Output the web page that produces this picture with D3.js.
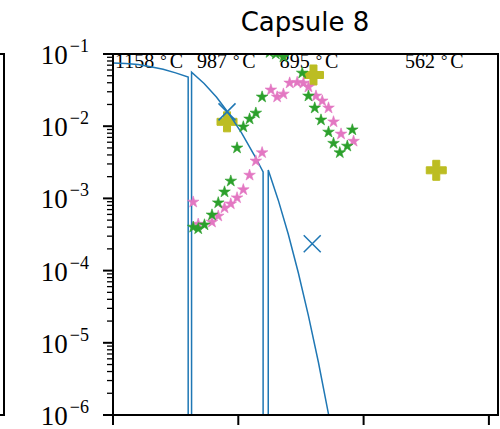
<!DOCTYPE html>
<html>
<head>
<meta charset="utf-8">
<script src="https://cdn.jsdelivr.net/npm/d3@7"></script>
<style>
body { margin: 0; background: #fff; }
</style>
</head>
<body>
<div id="chart"></div>
<script>
// DATA
var lineX = [0, 0.1, 0.2, 0.3, 0.4, 0.5, 0.6, 0.6, 0.627, 0.627, 0.727, 0.827, 0.927, 1.026, 1.127, 1.198, 1.198, 1.239, 1.239, 1.319, 1.399, 1.479, 1.559, 1.639, 1.718, 1.798];
var lineY = [0.0750, 0.0741, 0.0713, 0.0667, 0.0615, 0.0548, 0.0479, 1e-12, 1e-12, 0.0558, 0.0390, 0.0251, 0.01476, 0.00807, 0.00399, 0.00232, 1e-12, 1e-12, 0.00247, 9.46e-4, 3.18e-4, 9.35e-5, 2.40e-5, 5.42e-6, 1.07e-6, 1.85e-7];

var greenX = [0.64, 0.68, 0.73, 0.79, 0.84, 0.89, 0.94, 0.99, 1.04, 1.09, 1.14, 1.19, 1.25, 1.30, 1.36, 1.51, 1.56, 1.61, 1.66, 1.72, 1.76, 1.81, 1.87, 1.91];
var greenY = [4.0e-4, 3.8e-4, 4.3e-4, 5.9e-4, 8.7e-4, 1.23e-3, 1.74e-3, 5.0e-3, 9.8e-3, 1.26e-2, 1.52e-2, 2.54e-2, 0.105, 0.100, 0.091, 0.0545, 0.0262, 0.0179, 0.0122, 0.0083, 0.0058, 0.0043, 0.0053, 0.0089];

var pinkX = [0.64, 0.68, 0.79, 0.84, 0.89, 0.94, 0.99, 1.04, 1.09, 1.14, 1.19, 1.26, 1.31, 1.36, 1.41, 1.47, 1.52, 1.56, 1.62, 1.67, 1.72, 1.76, 1.82, 1.92];
var pinkY = [8.9e-4, 4.4e-4, 4.7e-4, 5.7e-4, 7.4e-4, 8.4e-4, 1.02e-3, 1.32e-3, 2.1e-3, 3.3e-3, 4.3e-3, 0.0318, 0.0254, 0.0279, 0.0397, 0.0405, 0.0395, 0.0349, 0.0262, 0.0224, 0.0179, 0.0115, 0.0078, 0.0062];

var crossX = [0.91, 1.59];
var crossY = [0.0158, 2.35e-4];

var plusX = [0.91, 1.60, 2.58];
var plusY = [0.0115, 0.0512, 2.45e-3];

var tempText = ["1158", "987", "895", "562"];
var tempX = [0.016, 0.67, 1.33, 2.33];

var xTicks = [0, 1, 2, 3];
var yTicks = [1e-1, 1e-2, 1e-3, 1e-4, 1e-5, 1e-6];
var yTickExp = ["\u22121", "\u22122", "\u22123", "\u22124", "\u22125", "\u22126"];
var title = "Capsule 8";

// LAYOUT
var W = 500, H = 429;
var pLeft = 113, pRight = 498, pTop = 54, pBottom = 415;
var serif = "'Liberation Serif', 'DejaVu Serif', serif";

var svg = d3.select("#chart").append("svg")
    .attr("width", W).attr("height", H);

var x = d3.scaleLinear().domain([0, (pRight - pLeft) / 125.3]).range([pLeft, pRight]);
var y = d3.scaleLog().domain([1e-6, 1e-1]).range([pBottom, pTop]);

// neighbouring subplot edge, cut off on the left
svg.append("path")
    .attr("d", "M0," + pTop + "H4V" + pBottom + "H0")
    .attr("fill", "none").attr("stroke", "#000").attr("stroke-width", 2);

svg.append("defs").append("clipPath").attr("id", "plotclip")
    .append("rect").attr("x", pLeft).attr("y", pTop)
    .attr("width", pRight - pLeft).attr("height", pBottom - pTop);

// TITLE
svg.append("text")
    .attr("x", 305).attr("y", 31)
    .attr("text-anchor", "middle")
    .style("font-family", "'DejaVu Sans', sans-serif")
    .style("font-size", "26px")
    .text(title);

var plot = svg.append("g").attr("clip-path", "url(#plotclip)");

// TEMPERATURE LABELS
tempText.forEach(function(t, i) {
    var tx = plot.append("text")
        .attr("x", x(tempX[i])).attr("y", 68)
        .style("font-family", serif)
        .style("font-size", "20px")
        .attr("fill", "#000");
    tx.append("tspan").text(t);
    tx.append("tspan").attr("dx", 6).attr("dy", -2).style("font-size", "16px").text("\u00b0");
    tx.append("tspan").attr("dx", 3).attr("dy", 2).text("C");
});

// OLIVE PLUS MARKERS
var pw = 10, pa = 3.5;
var plusPath = "M" + (-pa) + "," + (-pw) + "H" + pa + "V" + (-pa) + "H" + pw + "V" + pa + "H" + pa +
    "V" + pw + "H" + (-pa) + "V" + pa + "H" + (-pw) + "V" + (-pa) + "H" + (-pa) + "Z";
for (var i = 0; i < plusX.length; i++) {
    plot.append("path")
        .attr("d", plusPath)
        .attr("transform", "translate(" + x(plusX[i]) + "," + y(plusY[i]) + ")")
        .attr("fill", "#bcbd22")
        .attr("stroke", "#bcbd22").attr("stroke-width", 1);
}

// BLUE LINE
var pts = lineX.map(function(d, i) { return [d, lineY[i]]; });
plot.append("path")
    .datum(pts)
    .attr("d", d3.line().x(function(d) { return x(d[0]); }).y(function(d) { return y(d[1]); }))
    .attr("fill", "none")
    .attr("stroke", "#1f77b4")
    .attr("stroke-width", 1.5);

// BLUE X MARKERS
var cs = 8.5;
for (var i = 0; i < crossX.length; i++) {
    plot.append("path")
        .attr("d", "M" + (-cs) + "," + (-cs) + "L" + cs + "," + cs + "M" + (-cs) + "," + cs + "L" + cs + "," + (-cs))
        .attr("transform", "translate(" + x(crossX[i]) + "," + y(crossY[i]) + ")")
        .attr("stroke", "#1f77b4").attr("stroke-width", 1.5).attr("fill", "none");
}

// STARS
var star = d3.symbol().type(d3.symbolStar).size(42);
function drawStars(xs, ys, col) {
    for (var i = 0; i < xs.length; i++) {
        plot.append("path")
            .attr("d", star)
            .attr("transform", "translate(" + x(xs[i]) + "," + y(ys[i]) + ")")
            .attr("fill", col)
            .attr("stroke", col).attr("stroke-width", 0.6);
    }
}
drawStars(pinkX, pinkY, "#e377c2");
drawStars(greenX, greenY, "#2ca02c");

// AXES
var axes = svg.append("g");

// y minor ticks
var minor = [];
for (var e = -6; e < -1; e++) {
    for (var m = 2; m < 10; m++) minor.push(m * Math.pow(10, e));
}
minor.forEach(function(v) {
    axes.append("line")
        .attr("x1", pLeft - 6).attr("x2", pLeft)
        .attr("y1", y(v)).attr("y2", y(v))
        .attr("stroke", "#000").attr("stroke-width", 1.3);
});

yTicks.forEach(function(v, i) {
    axes.append("line")
        .attr("x1", pLeft - 10).attr("x2", pLeft)
        .attr("y1", y(v)).attr("y2", y(v))
        .attr("stroke", "#000").attr("stroke-width", 2);
    var t = axes.append("text")
        .attr("x", 89).attr("y", y(v) + 10)
        .attr("text-anchor", "end")
        .style("font-family", serif)
        .style("font-size", "27px");
    t.append("tspan").text("10");
    t.append("tspan").attr("dx", 2).attr("dy", -12).style("font-size", "18px").text(yTickExp[i]);
});

xTicks.forEach(function(v) {
    axes.append("line")
        .attr("x1", x(v)).attr("x2", x(v))
        .attr("y1", pBottom).attr("y2", pBottom + 10)
        .attr("stroke", "#000").attr("stroke-width", 2);
});

// frame
axes.append("rect")
    .attr("x", pLeft).attr("y", pTop)
    .attr("width", pRight - pLeft).attr("height", pBottom - pTop)
    .attr("fill", "none").attr("stroke", "#000").attr("stroke-width", 2);
</script>
</body>
</html>
